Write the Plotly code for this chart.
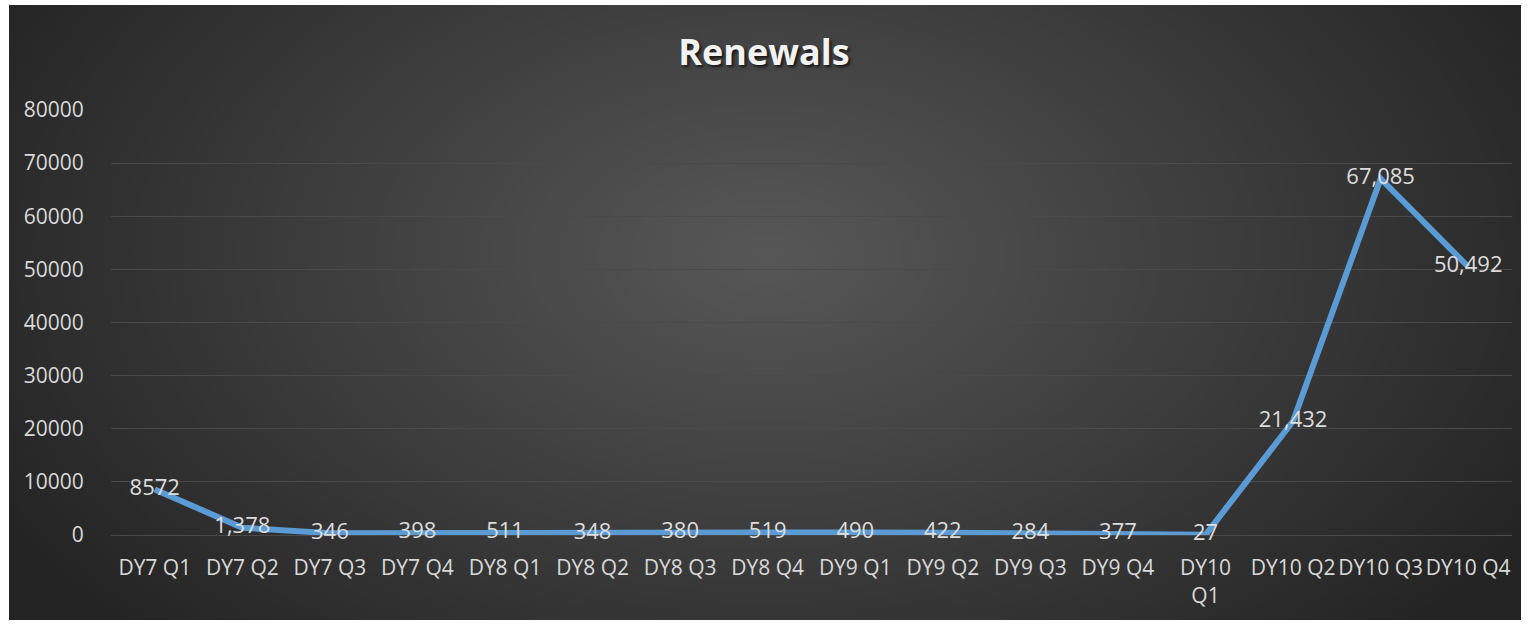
import base64, struct, zlib
import numpy as np
import plotly.graph_objects as go

categories = ["DY7 Q1", "DY7 Q2", "DY7 Q3", "DY7 Q4", "DY8 Q1", "DY8 Q2", "DY8 Q3", "DY8 Q4",
              "DY9 Q1", "DY9 Q2", "DY9 Q3", "DY9 Q4", "DY10 Q1", "DY10 Q2", "DY10 Q3", "DY10 Q4"]
tick_labels = ["DY7 Q1", "DY7 Q2", "DY7 Q3", "DY7 Q4", "DY8 Q1", "DY8 Q2", "DY8 Q3", "DY8 Q4",
               "DY9 Q1", "DY9 Q2", "DY9 Q3", "DY9 Q4", "DY10<br>Q1", "DY10 Q2", "DY10 Q3", "DY10 Q4"]
renewals = [8572, 1378, 346, 398, 511, 348, 380, 519, 490, 422, 284, 377, 27, 21432, 67085, 50492]
data_labels = ["8572", "1,378", "346", "398", "511", "348", "380", "519",
               "490", "422", "284", "377", "27", "21,432", "67,085", "50,492"]
y_ticks = [0, 10000, 20000, 30000, 40000, 50000, 60000, 70000, 80000]

W, H = 1528, 624
L, R, T, B = 111, 16, 110, 89
PW, PH = W - L - R, H - T - B


def make_png(w, h):
    ys, xs = np.mgrid[0:h, 0:w]
    px = xs * (W / w)
    py = ys * (H / h)
    dx = (px - 764) / 900.0
    dy = (py - 250) / 560.0
    t = np.clip(np.sqrt(dx ** 2 + dy ** 2), 0, 1)
    c = (88 - t * 52).astype(np.uint8)
    rgb = np.stack([c, c, c], axis=-1)
    raw = b"".join(b"\x00" + rgb[i].tobytes() for i in range(h))

    def chunk(tag, data):
        return struct.pack(">I", len(data)) + tag + data + struct.pack(">I", zlib.crc32(tag + data) & 0xffffffff)

    png = b"\x89PNG\r\n\x1a\n" + chunk(b"IHDR", struct.pack(">IIBBBBB", w, h, 8, 2, 0, 0, 0)) \
        + chunk(b"IDAT", zlib.compress(raw, 9)) + chunk(b"IEND", b"")
    return "data:image/png;base64," + base64.b64encode(png).decode()


bg = make_png(382, 156)

fig = go.Figure()
fig.add_trace(go.Scatter(
    x=categories, y=renewals, mode="lines+text",
    line=dict(color="#5B9BD5", width=6),
    text=data_labels, textposition="middle center",
    textfont=dict(family="Open Sans", size=22, color="#DDDDDD"),
    cliponaxis=False, hoverinfo="skip",
))

x0, x1 = 9, 1521
y0, y1 = 5, 620
fig.add_layout_image(dict(
    source=bg, xref="paper", yref="paper",
    x=(x0 - L) / PW, y=(H - B - y0) / PH,
    sizex=(x1 - x0) / PW, sizey=(y1 - y0) / PH,
    xanchor="left", yanchor="top", sizing="stretch", layer="below",
))

fig.update_layout(
    width=W, height=H,
    margin=dict(l=L, r=R, t=T, b=B),
    paper_bgcolor="white", plot_bgcolor="rgba(0,0,0,0)",
    showlegend=False,
    title=dict(text="<b>Renewals</b>", x=0.5, xanchor="center", xref="container",
               y=1 - 52 / H, yanchor="middle",
               font=dict(family="Open Sans", size=36, color="#F2F2F2",
                         shadow="2px 2px 3px rgba(0,0,0,0.7)")),
    xaxis=dict(
        type="category", tickmode="array", tickvals=categories, ticktext=tick_labels,
        showgrid=False, zeroline=False, showline=False,
        ticks="outside", ticklen=14, tickcolor="rgba(0,0,0,0)",
        tickfont=dict(family="Open Sans", size=21, color="#D9D9D9"),
        range=[-0.5, len(categories) - 0.5], tickangle=0,
    ),
    yaxis=dict(
        range=[0, 80000], tickmode="array", tickvals=y_ticks,
        ticktext=[str(v) for v in y_ticks],
        showgrid=True, gridcolor="#4A4A4A", gridwidth=1.3,
        zeroline=True, zerolinecolor="#4A4A4A", zerolinewidth=1.3,
        showline=False,
        ticks="outside", ticklen=22, tickcolor="rgba(0,0,0,0)",
        tickfont=dict(family="Open Sans", size=21, color="#D9D9D9"),
    ),
)

fig.write_html("out.html", config={"displayModeBar": False},
               post_script="document.body.style.margin='0';document.body.style.overflow='hidden';")
